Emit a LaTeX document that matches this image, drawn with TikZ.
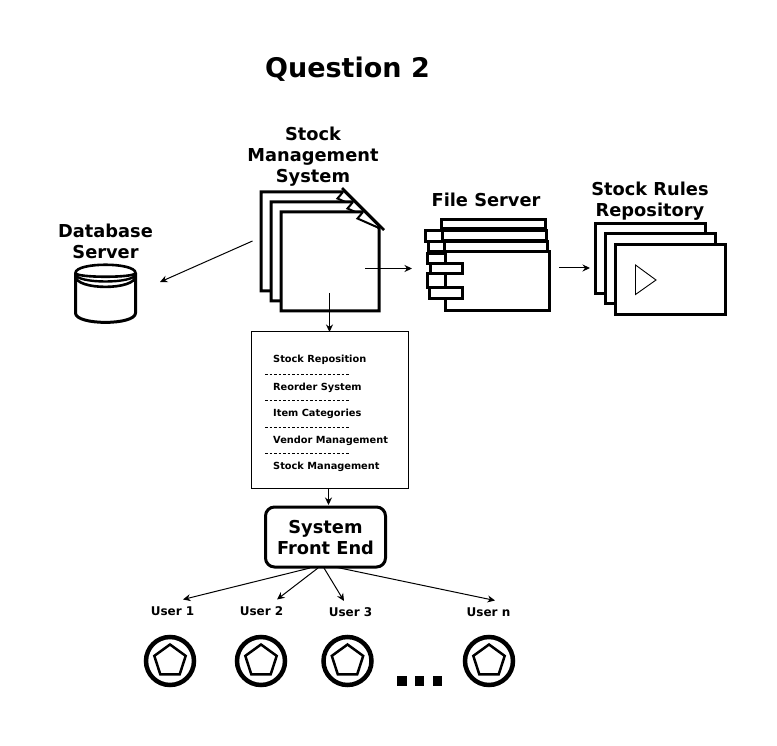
\documentclass[tikz,border=0pt]{standalone}
\usepackage{fontspec}
\setmainfont{DejaVu Sans}
\usetikzlibrary{arrows.meta,shapes.geometric}
\tikzset{
  lbl/.style={font=\bfseries\fontsize{17.8}{21}\selectfont,align=center,inner sep=0pt,text=black},
  ttl/.style={font=\bfseries\fontsize{27}{32}\selectfont,inner sep=0pt},
  usr/.style={font=\bfseries\fontsize{12}{14}\selectfont,inner sep=0pt},
  item/.style={font=\bfseries\fontsize{9.8}{12}\selectfont,inner sep=0pt,anchor=west},
  sep/.style={draw,line width=.8pt,dash pattern=on 2.6pt off 1.9pt},
  conn/.style={draw,line width=1pt,-{Stealth[length=7.5pt,width=7pt]}},
  heavy/.style={draw,line width=3pt,fill=white,miter limit=10},
  mid/.style={draw,line width=3pt,fill=white,rectangle,inner sep=0pt,minimum width=0pt},
  usercircle/.style={circle,draw,line width=4.5pt,minimum size=48pt,inner sep=0pt},
  userpent/.style={regular polygon,regular polygon sides=5,draw,line width=2.5pt,minimum size=33pt,inner sep=0pt},
  dotsq/.style={fill=black,inner sep=0pt,minimum size=9.5pt,rectangle},
  panel/.style={draw,line width=.8pt,fill=white,inner sep=0pt,minimum size=157pt,rectangle},
  frontend/.style={draw,line width=3pt,rounded corners=9pt,fill=white,minimum width=120pt,minimum height=60pt,inner sep=0pt},
}
\begin{document}
\begin{tikzpicture}[x=1pt,y=-1pt]
\useasboundingbox (0,0) rectangle (777,746);
\fill[white] (0,0) rectangle (777,746);
% titles
\node[ttl] (title) at (347.5,69) {Question 2};
\node[lbl] (smslabel) at (313,157) {Stock\\Management\\System};
\node[lbl] (dblabel) at (105.5,241.5) {Database\\Server};
\node[lbl] (fslabel) at (486,199.5) {File Server};
\node[lbl] (srlabel) at (650,201.3) {Stock Rules\\Repository};
% Stock Management System documents
\foreach \dx/\dy in {0/0,10/10,20/20}{
  \draw[heavy] (261+\dx,192+\dy) -- (343+\dx,192+\dy) -- (359+\dx,208+\dy) -- (359+\dx,291+\dy) -- (261+\dx,291+\dy) -- cycle;
  \draw[line width=2pt,fill=white,line join=miter] (343+\dx,192+\dy) -- (337.5+\dx,198.5+\dy) -- (359+\dx,208+\dy);
}
\draw[line width=2.6pt] (342,188) -- (384,230);
% File server
\draw[heavy] (441.5,219.5) rectangle (545.5,229);
\draw[heavy] (442,230.5) rectangle (546.5,241);
\draw[heavy] (425.5,231) rectangle (442,241.5);
\draw[heavy] (444,241.5) rectangle (547.5,252);
\draw[heavy] (428,241.5) rectangle (444,252);
\node[mid,minimum width=104pt,minimum height=59pt] (fsmain) at (497,281.5) {};
\draw[heavy] (427,253.5) rectangle (445,264);
\draw[heavy] (427,274) rectangle (445,288);
\node[mid,minimum width=32pt,minimum height=10pt] (tabone) at (446,269) {};
\node[mid,minimum width=33pt,minimum height=11pt] (tabtwo) at (445.5,293.5) {};
% Repository
\node[mid,minimum width=110pt,minimum height=70pt] (rep1) at (650,259) {};
\node[mid,minimum width=110pt,minimum height=70pt] (rep2) at (660,269) {};
\node[mid,minimum width=110pt,minimum height=70pt] (rep3) at (670,279.5) {};
\draw[line width=.9pt] (635.5,265) -- (656,280) -- (635.5,294.5) -- cycle;
% Database
\draw[line width=3pt,fill=white] (75.5,273) -- (75.5,313) .. controls (75.5,325.5) and (135.5,325.5) .. (135.5,313) -- (135.5,273);
\draw[line width=2.6pt,fill=white] (75.5,273) .. controls (75.5,262) and (135.5,262) .. (135.5,273) .. controls (135.5,278) and (75.5,278) .. (75.5,273) -- cycle;
\draw[line width=2.4pt] (75.5,274) .. controls (75.5,284) and (135.5,284) .. (135.5,274);
\draw[line width=2.6pt] (75.5,276) .. controls (75.5,290.5) and (135.5,290.5) .. (135.5,276);
% Panel
\node[panel] (panelbox) at (330,410) {};
\node[item] (it1) at (273,359.7) {Stock Reposition};
\node[item] (it2) at (273,387.7) {Reorder System};
\node[item] (it3) at (273,414.2) {Item Categories};
\node[item] (it4) at (273,440.7) {Vendor Management};
\node[item] (it5) at (273,466.7) {Stock Management};
\coordinate (s1a) at (265,374); \coordinate (s1b) at (349,374);
\coordinate (s2a) at (265,400); \coordinate (s2b) at (349,400);
\coordinate (s3a) at (265,427); \coordinate (s3b) at (349,427);
\coordinate (s4a) at (265,453); \coordinate (s4b) at (349,453);
\foreach \n in {1,2,3,4}{\path[sep] (s\n a) -- (s\n b);}
% Front end
\node[frontend] (fe) at (325.5,537) {};
\node[lbl] (felabel) at (325.5,538) {System\\Front End};
% user labels
\node[usr] (u1) at (172.5,611) {User 1};
\node[usr] (u2) at (261.5,611) {User 2};
\node[usr] (u3) at (350.5,612) {User 3};
\node[usr] (un) at (488.5,612) {User n};
% user icons
\foreach \nm/\px in {a/170,b/261,c/347.5,d/489}{
  \node[usercircle] (circ\nm) at (\px,661) {};
  \node[userpent] (pent\nm) at (\px,661) {};
}
\node[dotsq] (d1) at (402,681) {};
\node[dotsq] (d2) at (419.5,681) {};
\node[dotsq] (d3) at (437.5,681) {};
% connector ends
\coordinate (smsl) at (252.5,241);
\coordinate (dbtip) at (160,282);
\coordinate (smsr) at (365,268.5);
\coordinate (fstip) at (412,268.5);
\coordinate (smsb) at (329.5,293);
\coordinate (paneltop) at (329.5,332);
\coordinate (fsr) at (559,268);
\coordinate (reptip) at (590,268);
\coordinate (panelbot) at (328.5,489);
\coordinate (fetop) at (328.5,505);
\coordinate (fe1) at (310,568);
\coordinate (fe2) at (318,568);
\coordinate (fe3) at (324,568);
\coordinate (fe4) at (335,567);
\coordinate (u1tip) at (183,599.5);
\coordinate (u2tip) at (277,599.5);
\coordinate (u3tip) at (344,601);
\coordinate (untip) at (495,600.5);
\path[conn] (smsl) -- (dbtip);
\path[conn] (smsr) -- (fstip);
\path[conn] (smsb) -- (paneltop);
\path[conn] (fsr) -- (reptip);
\path[conn] (panelbot) -- (fetop);
\path[conn] (fe1) -- (u1tip);
\path[conn] (fe2) -- (u2tip);
\path[conn] (fe3) -- (u3tip);
\path[conn] (fe4) -- (untip);
\end{tikzpicture}
\end{document}
